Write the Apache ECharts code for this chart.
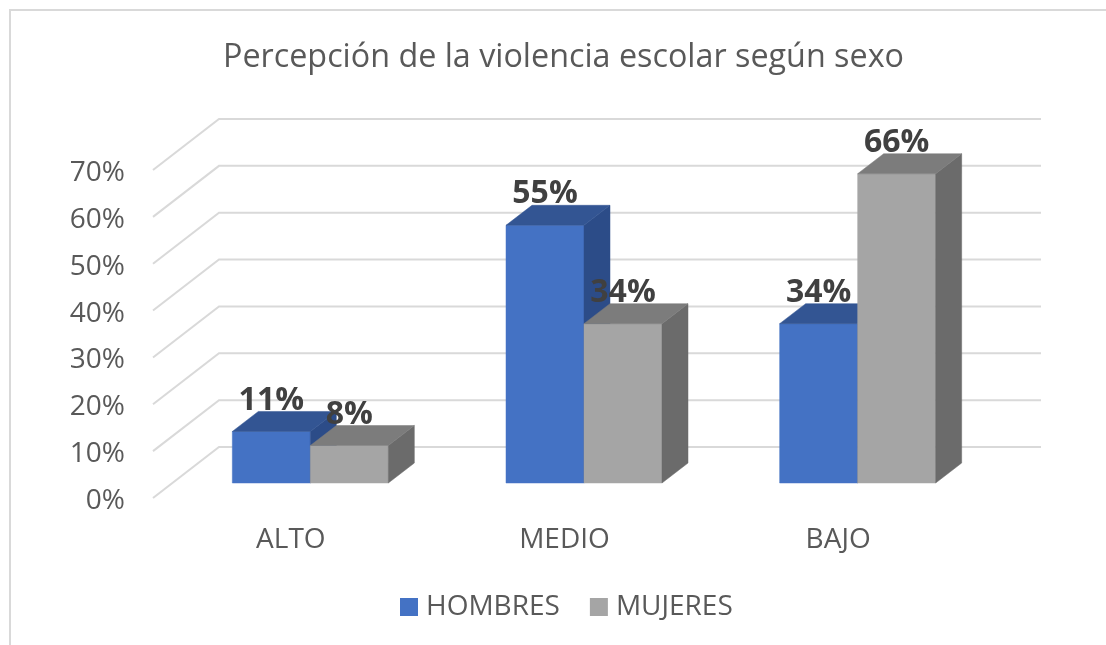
<!DOCTYPE html>
<html>
<head>
<meta charset="utf-8">
<title>Percepción de la violencia escolar según sexo</title>
<style>
  html, body { margin: 0; padding: 0; background: #fff; }
  #chart { width: 1106px; height: 645px; }
</style>
</head>
<body>
<div id="chart"></div>
<script src="https://cdn.jsdelivr.net/npm/echarts@6/dist/echarts.min.js"></script>
<script>
const categories = ['ALTO', 'MEDIO', 'BAJO']
const hombres = [11, 55, 34]
const mujeres = [8, 34, 66]
const yTicks = [0, 10, 20, 30, 40, 50, 60, 70]

const FONT = '"Open Sans", sans-serif'
const TEXT = '#595959'

// oblique depth of the chart floor, and where the bars stand on it
const FLOOR_DX = 66
const FLOOR_DY = -51
const BAR_DX = 19.5
const BAR_DY = -15
const DEPTH_DX = 26
const DEPTH_DY = -20
const BAR_WIDTH = 78

const blue = { front: '#4472C4', top: '#335593', side: '#2C4C88' }
const gray = { front: '#A5A5A5', top: '#7C7C7C', side: '#6B6B6B' }

function face(points, color) {
  return { type: 'polygon', shape: { points }, style: { fill: color, stroke: color, lineWidth: 0.5 } }
}

// one bar as three faces; slot is -1 for the left bar of a pair, 0 for the right one
function renderBar(slot, colors) {
  return function (params, api) {
    const top = api.coord([api.value(0), api.value(1)])
    const base = api.coord([api.value(0), 0])
    const x0 = top[0] + BAR_DX + slot * BAR_WIDTH
    const x1 = x0 + BAR_WIDTH
    const y0 = top[1] + BAR_DY
    const y1 = base[1] + BAR_DY
    return {
      type: 'group',
      children: [
        face([[x0, y1], [x1, y1], [x1, y0], [x0, y0]], colors.front),
        face([[x1, y1], [x1 + DEPTH_DX, y1 + DEPTH_DY], [x1 + DEPTH_DX, y0 + DEPTH_DY], [x1, y0]], colors.side),
        face([[x0, y0], [x1, y0], [x1 + DEPTH_DX, y0 + DEPTH_DY], [x0 + DEPTH_DX, y0 + DEPTH_DY]], colors.top)
      ]
    }
  }
}

function renderValue(slot) {
  return function (params, api) {
    const top = api.coord([api.value(0), api.value(1)])
    return {
      type: 'text',
      style: {
        x: top[0] + BAR_DX + (slot + 0.5) * BAR_WIDTH,
        y: top[1] + BAR_DY - 31,
        text: api.value(1) + '%',
        fill: '#404040',
        font: 'bold 32px ' + FONT,
        align: 'center',
        verticalAlign: 'middle'
      }
    }
  }
}

function renderGridLine(params, api) {
  const cs = params.coordSys
  const y = api.coord([0, api.value(0)])[1]
  return {
    type: 'polyline',
    shape: {
      points: [[cs.x - 1, y], [cs.x - 1 + FLOOR_DX, y + FLOOR_DY], [cs.x + cs.width + FLOOR_DX, y + FLOOR_DY]]
    },
    style: { fill: null, stroke: '#D9D9D9', lineWidth: 2 }
  }
}

function points(values) {
  return values.map((v, i) => [i, v])
}

function barSeries(name, values, slot, colors) {
  return {
    name,
    type: 'custom',
    z: 3,
    renderItem: renderBar(slot, colors),
    itemStyle: { color: colors.front },
    encode: { x: 0, y: 1 },
    data: points(values)
  }
}

function valueSeries(name, values, slot) {
  return {
    name,
    type: 'custom',
    z: 5,
    renderItem: renderValue(slot),
    encode: { x: 0, y: 1 },
    data: points(values)
  }
}

const chart = echarts.init(document.getElementById('chart'))
chart.setOption({
  animation: false,
  backgroundColor: '#fff',
  title: {
    text: 'Percepción de la violencia escolar según sexo',
    left: 218,
    top: 37,
    textStyle: { color: TEXT, fontFamily: FONT, fontSize: 32.3, fontWeight: 'normal' }
  },
  graphic: [{
    type: 'polyline',
    shape: { points: [[10, 645], [10, 10], [1106, 10]] },
    style: { fill: null, stroke: '#D9D9D9', lineWidth: 2 },
    silent: true
  }],
  legend: {
    data: ['HOMBRES', 'MUJERES'],
    left: 400,
    top: 593,
    padding: 0,
    icon: 'rect',
    itemWidth: 18,
    itemHeight: 18,
    itemGap: 30,
    textStyle: { color: TEXT, fontFamily: FONT, fontSize: 28, padding: [0, 0, 0, 3] }
  },
  grid: { left: 154, top: 170, width: 821, height: 328 },
  xAxis: {
    type: 'category',
    data: categories,
    axisLine: { show: false },
    axisTick: { show: false },
    axisLabel: { color: TEXT, fontFamily: FONT, fontSize: 28, margin: 28 }
  },
  yAxis: {
    type: 'value',
    min: 0,
    max: 70,
    interval: 10,
    splitLine: { show: false },
    axisLine: { show: false },
    axisTick: { show: false },
    axisLabel: { color: TEXT, fontFamily: FONT, fontSize: 28, margin: 29, verticalAlign: 'top', lineHeight: 6, formatter: '{value}%' }
  },
  series: [
    {
      type: 'custom',
      name: 'grid',
      z: 1,
      silent: true,
      renderItem: renderGridLine,
      encode: { y: 0 },
      data: yTicks.map((t) => [t])
    },
    barSeries('HOMBRES', hombres, -1, blue),
    barSeries('MUJERES', mujeres, 0, gray),
    valueSeries('HOMBRES %', hombres, -1),
    valueSeries('MUJERES %', mujeres, 0)
  ]
})
</script>
</body>
</html>
